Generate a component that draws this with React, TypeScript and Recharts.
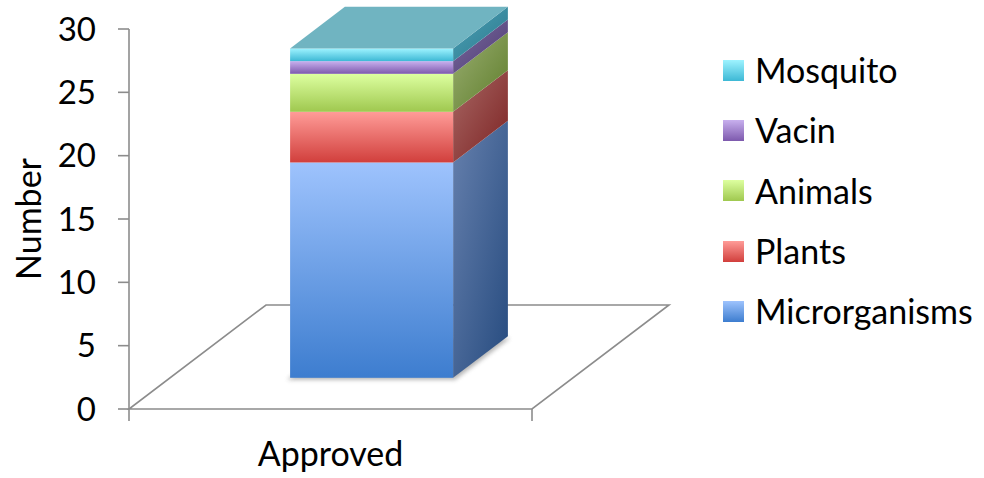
import { BarChart, Bar, XAxis, YAxis, Legend, ReferenceArea, Label } from 'recharts'

const categories = ['Approved']
const microrganisms = [17]
const plants = [4]
const animals = [3]
const vacin = [1]
const mosquito = [1]
const yTicks = [0, 5, 10, 15, 20, 25, 30]

const data = categories.map((name, i) => ({
  name,
  Microrganisms: microrganisms[i],
  Plants: plants[i],
  Animals: animals[i],
  Vacin: vacin[i],
  Mosquito: mosquito[i],
}))

interface SeriesStyle {
  key: string
  front: [string, string]
  side: [string, string]
}

// bottom to top, same order as the stack
const series: SeriesStyle[] = [
  { key: 'Microrganisms', front: ['#9ec3fd', '#3d7dcf'], side: ['#6680ad', '#264b7f'] },
  { key: 'Plants', front: ['#ff9c98', '#d13f3c'], side: ['#a86865', '#7c2222'] },
  { key: 'Animals', front: ['#ddffa0', '#9fc84f'], side: ['#9aae72', '#5e7d2a'] },
  { key: 'Vacin', front: ['#c8b0ee', '#7d59ad'], side: ['#7c6c9e', '#4d3a74'] },
  { key: 'Mosquito', front: ['#9ef3ff', '#3db8d5'], side: ['#4ea2b5', '#2a788e'] },
]
const TOP_FACE = '#70b4c1'
const GRID = '#8c8c8c'
const FONT = 'Lato, "Open Sans", sans-serif'

// oblique projection of the floor, bar sits in the middle of the depth
const FLOOR_DX = 137
const FLOOR_DY = -104
const BAR_FRONT = 0.3
const BAR_DEPTH = 0.4

function makeBox(s: SeriesStyle, isTop: boolean, isBottom: boolean) {
  return (props: any) => {
    const { x, y, width, height } = props
    if (!height || height <= 0) return <g />
    const fx = x + FLOOR_DX * BAR_FRONT
    const fy = y + FLOOR_DY * BAR_FRONT
    const dx = FLOOR_DX * BAR_DEPTH
    const dy = FLOOR_DY * BAR_DEPTH
    const r = fx + width
    const b = fy + height
    return (
      <g>
        {isBottom && (
          <polygon
            points={`${fx - 3},${b + 2} ${r + 2},${b + 2} ${r + dx + 2},${b + dy + 2} ${fx + dx},${b + dy}`}
            fill="#777"
            opacity={0.55}
            filter="url(#baseShadow)"
          />
        )}
        <polygon
          points={`${r},${fy} ${r + dx},${fy + dy} ${r + dx},${b + dy} ${r},${b}`}
          fill={`url(#side-${s.key})`}
        />
        <rect x={fx} y={fy} width={width} height={height} fill={`url(#front-${s.key})`} />
        {isTop && (
          <polygon
            points={`${fx},${fy} ${r},${fy} ${r + dx},${fy + dy} ${fx + dx},${fy + dy}`}
            fill={TOP_FACE}
          />
        )}
      </g>
    )
  }
}

function Floor(props: any) {
  const { x, y, width, height } = props
  const yb = y + height
  return (
    <g stroke={GRID} strokeWidth={1.6} fill="none">
      <polygon
        points={`${x},${yb} ${x + width},${yb} ${x + width + FLOOR_DX},${yb + FLOOR_DY} ${x + FLOOR_DX},${yb + FLOOR_DY}`}
      />
      <line x1={x} y1={yb} x2={x} y2={yb + 12} />
      <line x1={x + width} y1={yb} x2={x + width} y2={yb + 12} />
    </g>
  )
}

function LegendContent() {
  const items = [...series].reverse()
  return (
    <div style={{ fontFamily: FONT }}>
      {items.map((s) => (
        <div
          key={s.key}
          style={{ display: 'flex', alignItems: 'center', height: 60.3 }}
        >
          <span
            style={{
              width: 21,
              height: 21,
              background: `linear-gradient(${s.front[0]}, ${s.front[1]})`,
              marginRight: 11,
              flex: 'none',
            }}
          />
          <span style={{ fontSize: 34, color: '#000', lineHeight: 1 }}>{s.key}</span>
        </div>
      ))}
    </div>
  )
}

export default function App() {
  return (
    <div style={{ position: 'absolute', left: 0, top: 0, background: '#fff' }}>
      <BarChart
        width={984}
        height={478}
        data={data}
        margin={{ top: 29, right: 191, bottom: 0, left: 0 }}
      >
        <defs>
          {series.map((s) => (
            <linearGradient key={`f-${s.key}`} id={`front-${s.key}`} x1="0" y1="0" x2="0" y2="1">
              <stop offset="0%" stopColor={s.front[0]} />
              <stop offset="100%" stopColor={s.front[1]} />
            </linearGradient>
          ))}
          {series.map((s) => (
            <linearGradient key={`s-${s.key}`} id={`side-${s.key}`} x1="0" y1="0" x2="1" y2="1">
              <stop offset="0%" stopColor={s.side[0]} />
              <stop offset="100%" stopColor={s.side[1]} />
            </linearGradient>
          ))}
          <filter id="baseShadow" x="-20%" y="-50%" width="140%" height="200%">
            <feGaussianBlur stdDeviation="2" />
          </filter>
        </defs>
        <ReferenceArea y1={0} y2={30} shape={Floor} ifOverflow="visible" />
        <XAxis
          dataKey="name"
          axisLine={false}
          tickLine={false}
          tickSize={0}
          tickMargin={33}
          height={69}
          tick={{ fill: '#000', fontSize: 34, fontFamily: FONT }}
        />
        <YAxis
          width={129}
          domain={[0, 30]}
          ticks={yTicks}
          interval={0}
          axisLine={{ stroke: GRID, strokeWidth: 1.6 }}
          tickLine={{ stroke: GRID, strokeWidth: 1.6 }}
          tickSize={11}
          tickMargin={22}
          tick={{ fill: '#000', fontSize: 33, fontFamily: FONT }}
        >
          <Label
            content={({ viewBox }: any) => {
              const cy = viewBox.y + viewBox.height / 2
              return (
                <text
                  x={27}
                  y={cy}
                  transform={`rotate(-90 27 ${cy})`}
                  textAnchor="middle"
                  dominantBaseline="central"
                  fontSize={34}
                  fontFamily={FONT}
                  fill="#000"
                >
                  Number
                </text>
              )
            }}
          />
        </YAxis>
        <Legend
          layout="vertical"
          align="right"
          verticalAlign="top"
          wrapperStyle={{ left: 723, top: 40, width: 261 }}
          content={<LegendContent />}
        />
        {series.map((s, i) => (
          <Bar
            key={s.key}
            dataKey={s.key}
            stackId="total"
            barSize={163}
            isAnimationActive={false}
            shape={makeBox(s, i === series.length - 1, i === 0)}
          />
        ))}
      </BarChart>
    </div>
  )
}
